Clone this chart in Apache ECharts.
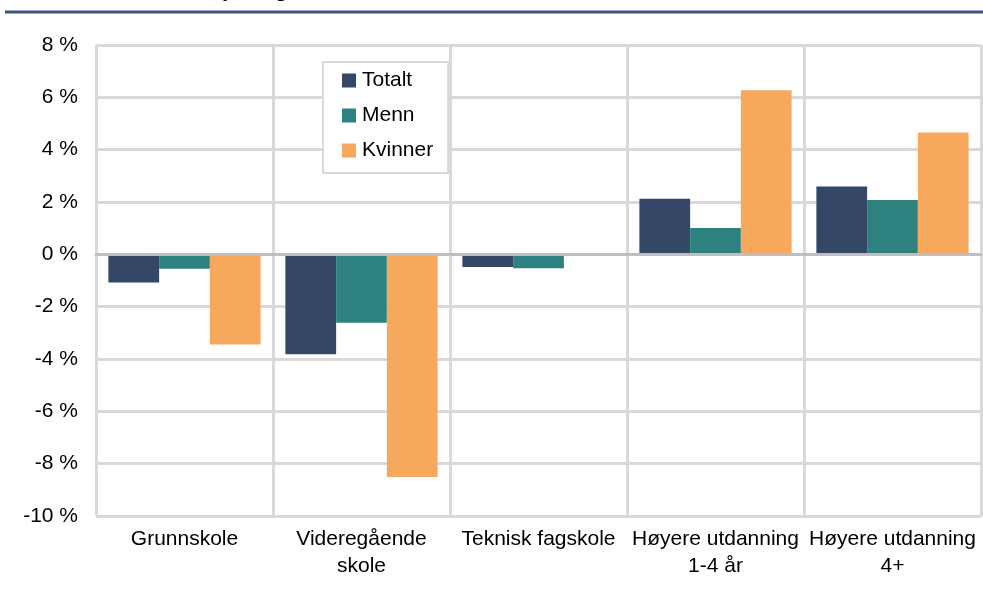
<!DOCTYPE html>
<html>
<head>
<meta charset="utf-8">
<script src="https://cdn.jsdelivr.net/npm/echarts@6/dist/echarts.min.js"></script>
<style>
  html, body { margin: 0; padding: 0; background: #fff; }
  #main { width: 983px; height: 596px; }
</style>
</head>
<body>
<div id="main"></div>
<script>
var categories = ['Grunnskole', 'Videregående\nskole', 'Teknisk fagskole', 'Høyere utdanning\n1-4 år', 'Høyere utdanning\n4+'];
var totalt = [-1.08, -3.82, -0.48, 2.12, 2.59];
var menn = [-0.55, -2.61, -0.53, 1.01, 2.08];
var kvinner = [-3.45, -8.51, null, 6.27, 4.66];
var seriesNames = ['Totalt', 'Menn', 'Kvinner'];
var colors = ['#344767', '#2d817f', '#f6a95c'];

var myChart = echarts.init(document.getElementById('main'));
var font = 'Liberation Sans, Arial, sans-serif';

var option = {
  animation: false,
  color: colors,
  textStyle: { fontFamily: font },
  grid: { left: 96, right: 2, top: 45, bottom: 80 },
  graphic: [
    {
      type: 'text', right: null, x: 288, y: 1,
      style: { text: 'Prosentpoeng', font: 'bold 22px ' + font, fill: '#000', align: 'right', verticalAlign: 'bottom' }
    },
    {
      type: 'line',
      shape: { x1: 5, y1: 12, x2: 983, y2: 12 },
      style: { stroke: '#3c5582', lineWidth: 3 }
    }
  ],
  legend: {
    orient: 'vertical',
    left: 323, top: 62,
    padding: [8, 15, 12, 19],
    itemGap: 14,
    itemWidth: 14, itemHeight: 14,
    icon: 'rect',
    backgroundColor: '#fff',
    borderColor: '#d9d9d9',
    borderWidth: 2,
    textStyle: { fontSize: 21, color: '#000', fontFamily: font, padding: [0, 0, 0, 1] },
    data: seriesNames
  },
  xAxis: {
    type: 'category',
    data: categories,
    z: 3,
    axisLine: { onZero: true, lineStyle: { color: '#bfbfbf', width: 3 } },
    axisTick: { show: false },
    axisLabel: {
      position: 'bottom',
      margin: 10,
      fontSize: 21, lineHeight: 27, color: '#000', fontFamily: font,
      interval: 0
    },
    splitLine: { show: true, lineStyle: { color: '#d9d9d9', width: 3 } }
  },
  yAxis: {
    type: 'value',
    min: -10, max: 8, interval: 2,
    axisLine: { show: false },
    axisTick: { show: false },
    axisLabel: {
      margin: 18, fontSize: 21, color: '#000', fontFamily: font,
      formatter: function (v) { return v + ' %'; }
    },
    splitLine: { lineStyle: { color: '#d9d9d9', width: 3 } }
  },
  series: [
    { name: seriesNames[0], type: 'bar', data: totalt, barGap: '0%', barCategoryGap: '14%' },
    { name: seriesNames[1], type: 'bar', data: menn, barGap: '0%', barCategoryGap: '14%' },
    { name: seriesNames[2], type: 'bar', data: kvinner, barGap: '0%', barCategoryGap: '14%' }
  ]
};

myChart.setOption(option);
</script>
</body>
</html>
